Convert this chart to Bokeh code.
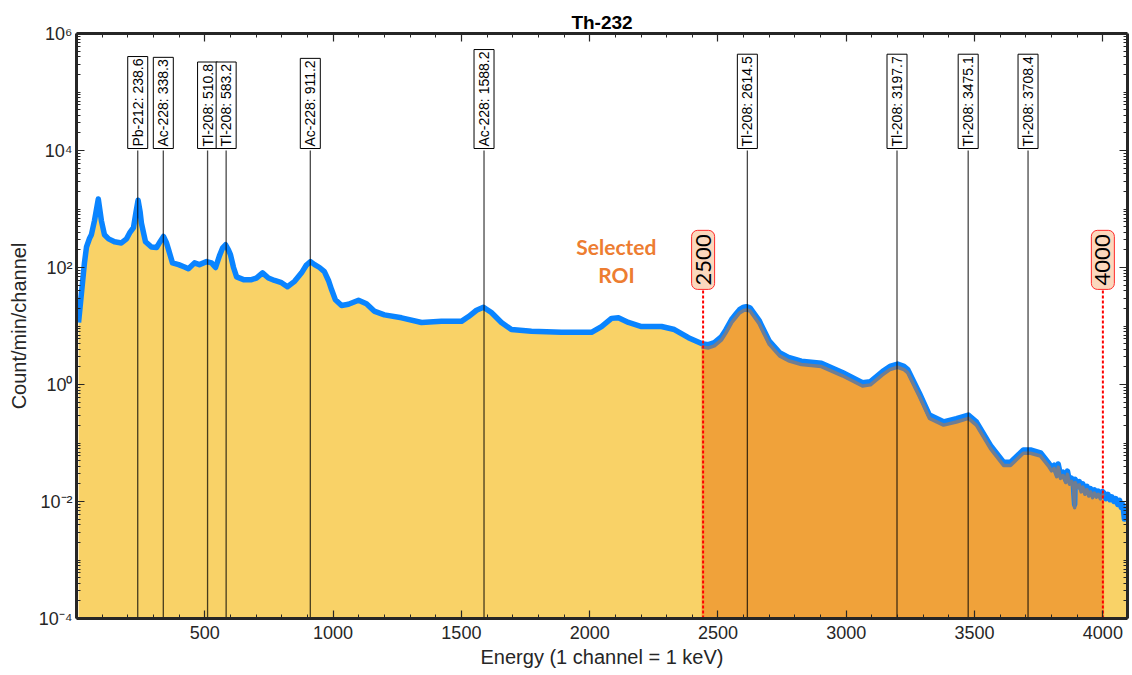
import numpy as np
from bokeh.plotting import figure
from bokeh.models import (ColumnDataSource, LinearAxis, LogAxis, FixedTicker,
                          CustomJSTickFormatter, Range1d)
from bokeh.core.properties import value
from bokeh.embed import file_html
from bokeh.resources import INLINE

# ---------------- data ----------------
energy = [8, 31, 39, 51, 58, 70, 85, 97, 109, 125, 148, 175, 195, 207, 222, 232, 240, 248,
          253, 269, 292, 312, 327, 339, 351, 359, 374, 398, 421, 436, 460, 479, 507, 526,
          542, 557, 569, 581, 592, 600, 612, 624, 651, 682, 701, 725, 748, 772, 799, 822,
          850, 877, 896, 912, 928, 947, 966, 982, 994, 1009, 1033, 1060, 1099, 1130, 1160,
          1200, 1267, 1345, 1422, 1500, 1528, 1559, 1586, 1617, 1656, 1695, 1773, 1890,
          2007, 2046, 2085, 2112, 2151, 2202, 2280, 2330, 2385, 2436, 2463, 2486, 2514,
          2530, 2553, 2570, 2584, 2600, 2611, 2625, 2660, 2700, 2740, 2775, 2825, 2903,
          2985, 3063, 3094, 3141, 3170, 3200, 3225, 3239, 3285, 3324, 3379, 3429, 3476,
          3507, 3562, 3613, 3640, 3690, 3718,
          3757, 3790, 3800, 3810, 3820, 3826, 3835, 3845, 3855, 3862, 3870, 3878, 3885,
          3890, 3892, 3900, 3908, 3915, 3922, 3930, 3938, 3945, 3952, 3960, 3967, 3975,
          3982, 3990, 3998, 4005, 4012, 4020, 4028, 4035, 4043, 4050, 4058, 4065, 4072,
          4078, 4084, 4090]
counts = [11.5, 120, 224, 316, 363, 630, 1480, 630, 363, 309, 275, 263, 309, 389, 479, 890,
          1410, 890, 575, 275, 224, 219, 282, 339, 263, 200, 120, 112, 102, 95, 120, 112,
          126, 120, 100, 158, 214, 245, 200, 166, 100, 69, 62, 62, 66, 81, 66, 60, 55, 47,
          58, 81, 110, 126, 112, 100, 85, 60, 42, 28, 22.4, 23.5, 27.5, 24, 18, 15.5, 13.8,
          11.5, 12.0, 12.0, 14.5, 18.6, 20.9, 17.0, 11.5, 8.7, 8.1, 7.8, 7.8, 9.8, 13.5,
          13.8, 11.5, 9.8, 9.8, 8.7, 6.3, 5.0, 4.8, 5.2, 6.6,
          8.5, 12.9, 16.0, 19.0, 21.0, 21.4, 20.5, 12.5, 5.5, 3.5, 2.9, 2.5, 2.3,
          1.6, 1.07, 1.12, 1.66, 2.04, 2.24, 2.04, 1.82, 0.71, 0.30, 0.23, 0.26, 0.30,
          0.23, 0.091, 0.047, 0.047, 0.076, 0.076, 0.068, 0.0447, 0.038, 0.0417,
          0.0302, 0.0437, 0.0282, 0.0316, 0.024, 0.0331, 0.0224, 0.0251, 0.0191, 0.0089,
          0.024, 0.020, 0.0219, 0.0166, 0.020, 0.0151, 0.0182, 0.0141, 0.0166, 0.0132,
          0.0158, 0.0135, 0.0151, 0.0126, 0.0148, 0.0138, 0.0112, 0.0132, 0.0107, 0.012,
          0.010, 0.0112, 0.0089, 0.0105, 0.0079, 0.0089, 0.0050, 0.0056]

peak_energy = [238.6, 338.3, 510.8, 583.2, 911.2, 1588.2, 2614.5, 3197.7, 3475.1, 3708.4]
peak_label = ["Pb-212: 238.6", "Ac-228: 338.3", "Tl-208: 510.8", "Tl-208: 583.2",
              "Ac-228: 911.2", "Ac-228: 1588.2", "Tl-208: 2614.5", "Tl-208: 3197.7",
              "Tl-208: 3475.1", "Tl-208: 3708.4"]

roi_position = [2442, 4000]
roi_label = ["2500", "4000"]
roi_title = ["Selected", "ROI"]

x_major_ticks = [500, 1000, 1500, 2000, 2500, 3000, 3500, 4000]
y_major_ticks = [1e-4, 1e-2, 1e0, 1e2, 1e4, 1e6]

# ---------------- figure ----------------
FLOOR = 1e-4
YELLOW = "#f9d267"
ORANGE = "#f0a23a"
BLUE = "#0a84ff"
AXIS = "#262626"

p = figure(width=1130, height=670, x_range=Range1d(0, 4096), y_range=Range1d(1e-4, 1e6),
           y_axis_type="log", output_backend="svg", toolbar_location=None,
           title="Th-232", min_border_left=76, min_border_right=3,
           min_border_top=33, min_border_bottom=50, x_axis_label="Energy (1 channel = 1 keV)",
           y_axis_label="Count/min/channel")
p.outline_line_color = None
p.xgrid.visible = False
p.ygrid.visible = False
p.background_fill_color = "white"
p.border_fill_color = "white"

p.title.align = "center"
p.title.text_font = "Liberation Sans"
p.title.text_font_size = "19px"
p.title.text_font_style = "bold"
p.title.text_color = "black"
p.title.standoff = 2
p.title.offset = 0

E = np.array(energy, dtype=float)
C = np.array(counts, dtype=float)
roi = (E >= roi_position[0] - 6) & (E <= roi_position[1] + 5)

# fills
p.varea(x=E, y1=np.full(len(E), FLOOR), y2=C, fill_color=YELLOW)
p.varea(x=E[roi], y1=np.full(roi.sum(), FLOOR), y2=C[roi] * 0.9, fill_color=ORANGE)

# spectrum line
p.line(E, C, line_color=BLUE, line_width=5.5, line_join="round")
p.line(E[roi], C[roi] * 0.88, line_color="#6f7d92", line_width=3.5, line_join="round")

# peak markers
n = len(peak_energy)
p.segment(x0=peak_energy, y0=[FLOOR] * n, x1=peak_energy, y1=[1e4] * n,
          line_color="black", line_alpha=0.72, line_width=1.3)
psrc = ColumnDataSource(dict(x=peak_energy, y=[1e4] * n, text=peak_label))
p.text(x="x", y="y", text="text", source=psrc, angle=np.pi / 2, text_align="left",
       text_baseline="middle", text_font=value("Liberation Sans"), text_font_size="14px",
       text_color="black", background_fill_color="white", border_line_color="black",
       border_line_width=1, padding=2, y_offset=-2)

# ROI lines and labels
roi_top = 42
m = len(roi_position)
p.segment(x0=roi_position, y0=[FLOOR] * m, x1=roi_position, y1=[roi_top] * m,
          line_color="#ff0000", line_width=2, line_dash="3 2")
rsrc = ColumnDataSource(dict(x=roi_position, y=[135] * m, text=roi_label))
p.text(x="x", y="y", text="text", source=rsrc, angle=np.pi / 2, text_align="center",
       text_baseline="middle", text_font=value("Lato"), text_font_size="22px",
       text_color="black", background_fill_color="#fbd8bd", border_line_color="#ff2a2a",
       border_line_width=1, padding=4, border_radius=6)

tsrc = ColumnDataSource(dict(x=[2104, 2104], y=[226, 75], text=roi_title))
p.text(x="x", y="y", text="text", source=tsrc, text_align="center", text_baseline="middle",
       text_font=value("Lato"), text_font_size="21px", text_font_style="bold",
       text_color="#ed7d31")

# ---------------- axes ----------------
x_minor = list(range(0, 4100, 100))
y_minor = [mm * 10.0 ** k for k in range(-4, 6) for mm in range(1, 10)]
xt = FixedTicker(ticks=x_major_ticks, minor_ticks=x_minor)
yt = FixedTicker(ticks=y_major_ticks, minor_ticks=y_minor)

yfmt = CustomJSTickFormatter(code="""
const e = Math.round(Math.log10(tick));
const sup = {'-':'\u207b','0':'\u2070','1':'\u00b9','2':'\u00b2','3':'\u00b3','4':'\u2074',
             '5':'\u2075','6':'\u2076','7':'\u2077','8':'\u2078','9':'\u2079'};
return '10' + String(e).split('').map(c => sup[c]).join('');
""")
empty = CustomJSTickFormatter(code="return '';")


def style(ax, labels=True):
    ax.axis_line_color = AXIS
    ax.axis_line_width = 3
    ax.major_tick_line_color = AXIS
    ax.minor_tick_line_color = AXIS
    ax.major_tick_line_width = 1.2
    ax.minor_tick_line_width = 1
    ax.major_tick_in = 8
    ax.major_tick_out = 0
    ax.minor_tick_in = 4
    ax.minor_tick_out = 0
    ax.major_label_text_font = "Liberation Sans"
    ax.major_label_text_font_size = "18px"
    ax.major_label_text_color = AXIS
    ax.axis_label_text_font = "Liberation Sans"
    ax.axis_label_text_font_size = "20px"
    ax.axis_label_text_font_style = "normal"
    ax.axis_label_text_color = AXIS
    if not labels:
        ax.major_label_standoff = 0
        ax.major_label_text_font_size = "0px"


xa = p.xaxis[0]
xa.ticker = xt
style(xa)
xa.major_label_standoff = 7
xa.axis_label_standoff = 4

ya = p.yaxis[0]
ya.ticker = yt
ya.formatter = yfmt
style(ya)
ya.major_label_standoff = 4
ya.axis_label_standoff = 6

top = LinearAxis(ticker=xt, formatter=empty)
style(top, labels=False)
p.add_layout(top, "above")

right = LogAxis(ticker=yt, formatter=empty)
style(right, labels=False)
p.add_layout(right, "right")

open("out.html", "w").write(file_html(p, INLINE))
